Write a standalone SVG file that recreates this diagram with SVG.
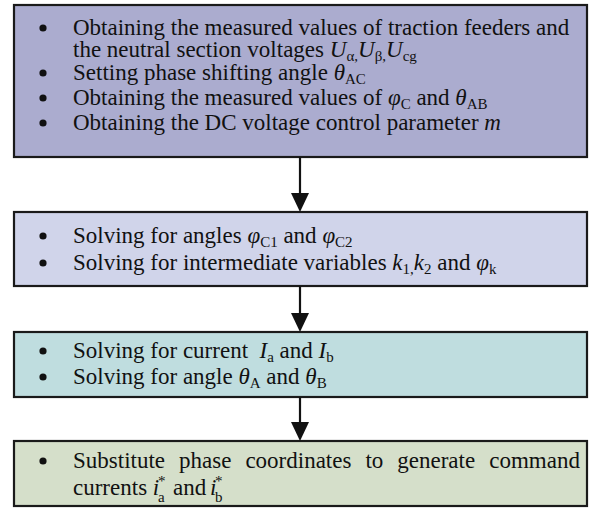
<svg xmlns="http://www.w3.org/2000/svg" width="598" height="508" viewBox="0 0 598 508">
<style>
.box{stroke:#1a1a1a;stroke-width:2.2}
text{font-family:'Liberation Serif','Times New Roman',Tinos,serif;font-size:23px;fill:#111}
.i{font-style:italic}
.s{font-size:15px}
.bul{fill:#111}
.conn line{stroke:#111;stroke-width:2.2}
.conn polygon{fill:#111}
</style>
<rect width="598" height="508" fill="#fff"/>
<g id="n1">
<rect class="box" x="14" y="5" width="573" height="152" fill="#abaccf"/>
<circle class="bul" cx="43" cy="28" r="3.6"/>
<text x="73" y="35">Obtaining the measured values of traction feeders and</text>
<text x="73" y="57">the neutral section voltages <tspan class="i">U</tspan><tspan class="s" dy="4">α,</tspan><tspan class="i" dy="-4">U</tspan><tspan class="s" dy="4">β,</tspan><tspan class="i" dy="-4">U</tspan><tspan class="s" dy="4">cg</tspan></text>
<circle class="bul" cx="43" cy="73" r="3.6"/>
<text x="73" y="80">Setting phase shifting angle <tspan class="i">θ</tspan><tspan class="s" dy="4">AC</tspan></text>
<circle class="bul" cx="43" cy="98" r="3.6"/>
<text x="73" y="105">Obtaining the measured values of <tspan class="i">φ</tspan><tspan class="s" dy="4">C</tspan><tspan dy="-4"> and </tspan><tspan class="i">θ</tspan><tspan class="s" dy="4">AB</tspan></text>
<circle class="bul" cx="43" cy="123" r="3.6"/>
<text x="73" y="130">Obtaining the DC voltage control parameter <tspan class="i">m</tspan></text>
</g>
<g id="n2">
<rect class="box" x="14" y="212" width="573" height="74" fill="#d0d4ea"/>
<circle class="bul" cx="43" cy="236" r="3.6"/>
<text x="73" y="243">Solving for angles <tspan class="i">φ</tspan><tspan class="s" dy="4">C1</tspan><tspan dy="-4"> and </tspan><tspan class="i">φ</tspan><tspan class="s" dy="4">C2</tspan></text>
<circle class="bul" cx="43" cy="263" r="3.6"/>
<text x="73" y="270">Solving for intermediate variables <tspan class="i">k</tspan><tspan class="s" dy="4">1,</tspan><tspan class="i" dy="-4">k</tspan><tspan class="s" dy="4">2</tspan><tspan dy="-4"> and </tspan><tspan class="i">φ</tspan><tspan class="s" dy="4">k</tspan></text>
</g>
<g id="n3">
<rect class="box" x="14" y="332" width="573" height="65" fill="#bfdddf"/>
<circle class="bul" cx="43" cy="351" r="3.6"/>
<text x="73" y="358" xml:space="preserve">Solving for current  <tspan class="i">I</tspan><tspan class="s" dy="4">a</tspan><tspan dy="-4"> and </tspan><tspan class="i">I</tspan><tspan class="s" dy="4">b</tspan></text>
<circle class="bul" cx="43" cy="377" r="3.6"/>
<text x="73" y="384">Solving for angle <tspan class="i">θ</tspan><tspan class="s" dy="4">A</tspan><tspan dy="-4"> and </tspan><tspan class="i">θ</tspan><tspan class="s" dy="4">B</tspan></text>
</g>
<g id="n4">
<rect class="box" x="14" y="441" width="573" height="65" fill="#d5dfca"/>
<circle class="bul" cx="43" cy="461" r="3.6"/>
<text y="468"><tspan x="73">Substitute</tspan><tspan x="179">phase</tspan><tspan x="245.4">coordinates</tspan><tspan x="365.4">to</tspan><tspan x="397.3">generate</tspan><tspan x="489.2">command</tspan></text>
<text x="73" y="495">currents <tspan class="i">i</tspan></text>
<text x="158" y="486" class="s">*</text>
<text x="158" y="502" class="s">a</text>
<text x="173" y="495">and</text>
<text x="210" y="495" class="i">i</text>
<text x="215" y="486" class="s">*</text>
<text x="215" y="502" class="s">b</text>
</g>
<g id="connectors" class="conn">
<line x1="300" y1="157" x2="300" y2="194"/>
<polygon points="291,193 309,193 300,212"/>
<line x1="300" y1="286" x2="300" y2="314"/>
<polygon points="291,313 309,313 300,332"/>
<line x1="300" y1="397" x2="300" y2="423"/>
<polygon points="291,422 309,422 300,441"/>
</g>
</svg>
